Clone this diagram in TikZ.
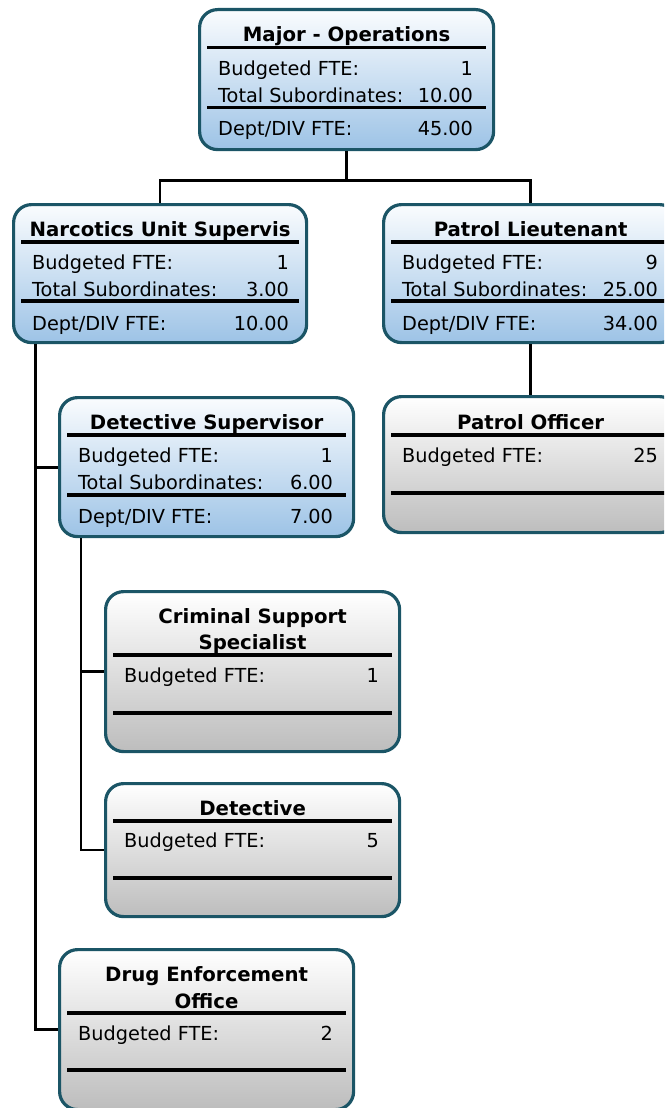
\documentclass[tikz,border=0pt]{standalone}
\usepackage{fontspec}
\setmainfont{DejaVu Sans}
\usetikzlibrary{calc}
\definecolor{bordc}{HTML}{1B5566}
\definecolor{bluebot}{HTML}{9DC3E6}
\definecolor{bluetop}{HTML}{FAFCFE}
\definecolor{graybot}{HTML}{BDBDBD}
\tikzset{
  x=1pt,y=1pt,
  orgbox/.style={draw=bordc, line width=3.2pt, rounded corners=18pt, rectangle, anchor=north west, inner sep=0pt},
  bluebox/.style={orgbox, top color=bluetop, bottom color=bluebot},
  graybox/.style={orgbox, top color=white, bottom color=graybot},
  ttl/.style={font=\fontsize{19.7}{23}\selectfont\bfseries, inner sep=0pt, text height=14pt, text depth=0pt},
  lbl/.style={font=\fontsize{19.3}{23}\selectfont, inner sep=0pt, text height=14pt, text depth=0pt, anchor=west},
  val/.style={font=\fontsize{19.3}{23}\selectfont, inner sep=0pt, text height=14pt, text depth=0pt, anchor=east},
  sep/.style={line width=3.5pt, black},
  conn/.style={line width=2.6pt, black}
}
\begin{document}
\begin{tikzpicture}
\useasboundingbox (0,0) rectangle (664,-1108);
\clip (0,0) rectangle (664,-1108);
% boxes
\node[bluebox, minimum width=294pt, minimum height=140pt] (major) at (198,-8) {};
\node[bluebox, minimum width=293pt, minimum height=138pt] (narc) at (12,-203) {};
\node[bluebox, minimum width=294pt, minimum height=138pt] (plt) at (382,-203) {};
\node[graybox, minimum width=294pt, minimum height=136pt] (po) at (382,-395) {};
\node[bluebox, minimum width=294pt, minimum height=139pt] (dsup) at (58,-396) {};
\node[graybox, minimum width=294pt, minimum height=160pt] (crim) at (104,-590) {};
\node[graybox, minimum width=294pt, minimum height=133pt] (det) at (104,-782) {};
\node[graybox, minimum width=294pt, minimum height=160pt] (drug) at (58,-948) {};
% connectors
\draw[conn] (major.south) -- ++(0,-29) coordinate (jn) -| (narc.north);
\draw[conn] (jn) -| (plt.north);
\draw[conn] (plt.south) -- (po.north);
\draw[conn, line width=3pt] ($(narc.south west)+(23,0)$) coordinate (nv) |- (dsup.west);
\draw[conn, line width=3pt] (nv) |- (drug.west);
\draw[conn] ($(dsup.south west)+(23,0)$) coordinate (dv) |- (crim.west);
\draw[conn] (dv) |- (det.west);
% Major - Operations
\node[ttl] (t1) at ($(major.north)+(0,-26.5)$) {Major - Operations};
\draw[sep] ($(major.north west)+(9,-39.5)$) -- ($(major.north east)+(-9,-39.5)$);
\node[lbl] (l1a) at ($(major.north west)+(20,-60)$) {Budgeted FTE:};
\node[val] (v1a) at ($(major.north east)+(-22,-60)$) {1};
\node[lbl] (l1b) at ($(major.north west)+(20,-87)$) {Total Subordinates:};
\node[val] (v1b) at ($(major.north east)+(-22,-87)$) {10.00};
\draw[sep] ($(major.north west)+(9,-99.5)$) -- ($(major.north east)+(-9,-99.5)$);
\node[lbl] (l1c) at ($(major.north west)+(20,-120)$) {Dept/DIV FTE:};
\node[val] (v1c) at ($(major.north east)+(-22,-120)$) {45.00};
% Narcotics
\node[ttl] (t2) at ($(narc.north)+(0,-26.5)$) {Narcotics Unit Supervis};
\draw[sep] ($(narc.north west)+(9,-39)$) -- ($(narc.north east)+(-9,-39)$);
\node[lbl] (l2a) at ($(narc.north west)+(20,-59)$) {Budgeted FTE:};
\node[val] (v2a) at ($(narc.north east)+(-19,-59)$) {1};
\node[lbl] (l2b) at ($(narc.north west)+(20,-86)$) {Total Subordinates:};
\node[val] (v2b) at ($(narc.north east)+(-19,-86)$) {3.00};
\draw[sep] ($(narc.north west)+(9,-98)$) -- ($(narc.north east)+(-9,-98)$);
\node[lbl] (l2c) at ($(narc.north west)+(20,-120)$) {Dept/DIV FTE:};
\node[val] (v2c) at ($(narc.north east)+(-19,-120)$) {10.00};
% Patrol Lieutenant
\node[ttl] (t3) at ($(plt.north)+(0,-26.5)$) {Patrol Lieutenant};
\draw[sep] ($(plt.north west)+(9,-39)$) -- ($(plt.north east)+(-9,-39)$);
\node[lbl] (l3a) at ($(plt.north west)+(20,-59)$) {Budgeted FTE:};
\node[val] (v3a) at ($(plt.north east)+(-21,-59)$) {9};
\node[lbl] (l3b) at ($(plt.north west)+(20,-86)$) {Total Subordinates:};
\node[val] (v3b) at ($(plt.north east)+(-21,-86)$) {25.00};
\draw[sep] ($(plt.north west)+(9,-98)$) -- ($(plt.north east)+(-9,-98)$);
\node[lbl] (l3c) at ($(plt.north west)+(20,-120)$) {Dept/DIV FTE:};
\node[val] (v3c) at ($(plt.north east)+(-21,-120)$) {34.00};
% Patrol Officer
\node[ttl] (t4) at ($(po.north)+(0,-27)$) {Patrol Officer};
\draw[sep] ($(po.north west)+(9,-40)$) -- ($(po.north east)+(-9,-40)$);
\node[lbl] (l4a) at ($(po.north west)+(20,-60)$) {Budgeted FTE:};
\node[val] (v4a) at ($(po.north east)+(-21,-60)$) {25};
\draw[sep] ($(po.north west)+(9,-98)$) -- ($(po.north east)+(-9,-98)$);
% Detective Supervisor
\node[ttl] (t5) at ($(dsup.north)+(0,-26.5)$) {Detective Supervisor};
\draw[sep] ($(dsup.north west)+(9,-39)$) -- ($(dsup.north east)+(-9,-39)$);
\node[lbl] (l5a) at ($(dsup.north west)+(20,-59)$) {Budgeted FTE:};
\node[val] (v5a) at ($(dsup.north east)+(-22,-59)$) {1};
\node[lbl] (l5b) at ($(dsup.north west)+(20,-86)$) {Total Subordinates:};
\node[val] (v5b) at ($(dsup.north east)+(-22,-86)$) {6.00};
\draw[sep] ($(dsup.north west)+(9,-99)$) -- ($(dsup.north east)+(-9,-99)$);
\node[lbl] (l5c) at ($(dsup.north west)+(20,-120)$) {Dept/DIV FTE:};
\node[val] (v5c) at ($(dsup.north east)+(-22,-120)$) {7.00};
% Criminal Support Specialist
\node[ttl] (t6a) at ($(crim.north)+(0,-26)$) {Criminal Support};
\node[ttl] (t6b) at ($(crim.north)+(0,-52)$) {Specialist};
\draw[sep] ($(crim.north west)+(9,-65)$) -- ($(crim.north east)+(-9,-65)$);
\node[lbl] (l6a) at ($(crim.north west)+(20,-85)$) {Budgeted FTE:};
\node[val] (v6a) at ($(crim.north east)+(-22,-85)$) {1};
\draw[sep] ($(crim.north west)+(9,-123)$) -- ($(crim.north east)+(-9,-123)$);
% Detective
\node[ttl] (t7) at ($(det.north)+(0,-26)$) {Detective};
\draw[sep] ($(det.north west)+(9,-39)$) -- ($(det.north east)+(-9,-39)$);
\node[lbl] (l7a) at ($(det.north west)+(20,-58)$) {Budgeted FTE:};
\node[val] (v7a) at ($(det.north east)+(-22,-58)$) {5};
\draw[sep] ($(det.north west)+(9,-96)$) -- ($(det.north east)+(-9,-96)$);
% Drug Enforcement Office
\node[ttl] (t8a) at ($(drug.north)+(0,-26)$) {Drug Enforcement};
\node[ttl] (t8b) at ($(drug.north)+(0,-53)$) {Office};
\draw[sep] ($(drug.north west)+(9,-65)$) -- ($(drug.north east)+(-9,-65)$);
\node[lbl] (l8a) at ($(drug.north west)+(20,-85)$) {Budgeted FTE:};
\node[val] (v8a) at ($(drug.north east)+(-22,-85)$) {2};
\draw[sep] ($(drug.north west)+(9,-122)$) -- ($(drug.north east)+(-9,-122)$);
\end{tikzpicture}
\end{document}
